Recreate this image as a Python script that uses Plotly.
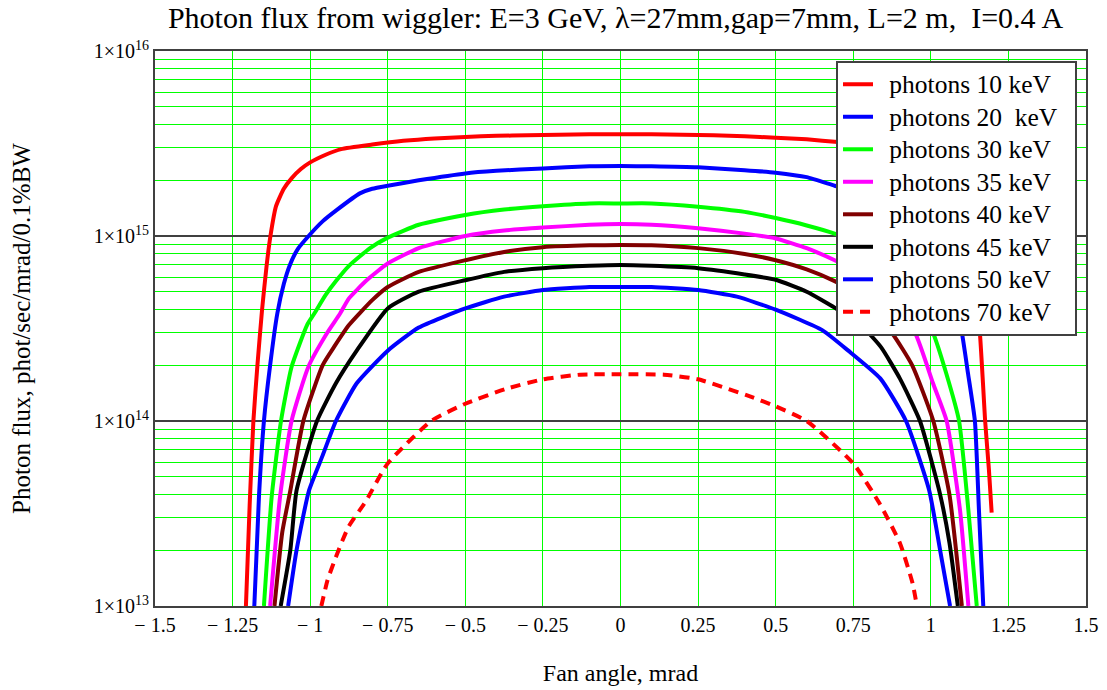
import plotly.graph_objects as go

# ---- data ----
angle_10 = [-1.207, -1.195, -1.183, -1.170, -1.155, -1.140, -1.128, -1.110, -1.085, -1.060, -1.030, -1.000,
            -0.950, -0.900, -0.800, -0.700, -0.600, -0.500, -0.400, -0.300, -0.200, -0.100, 0.000, 0.100,
            0.200, 0.300, 0.400, 0.500, 0.600, 0.700, 0.800, 0.900, 0.950, 1.000, 1.030, 1.060, 1.085,
            1.100, 1.120, 1.135, 1.148, 1.158, 1.168, 1.175, 1.187, 1.196]
flux_10 = [1.0e13, 3.5e13, 1.0e14, 2.0e14, 4.0e14, 7.0e14, 1.0e15, 1.45e15, 1.8e15, 2.05e15, 2.3e15, 2.5e15,
           2.75e15, 2.95e15, 3.12e15, 3.27e15, 3.37e15, 3.43e15, 3.48e15, 3.5e15, 3.53e15, 3.55e15, 3.55e15,
           3.55e15, 3.53e15, 3.5e15, 3.46e15, 3.4e15, 3.33e15, 3.22e15, 3.08e15, 2.88e15, 2.7e15, 2.45e15,
           2.25e15, 1.95e15, 1.7e15, 1.4e15, 1.0e15, 6.5e14, 4.2e14, 3.0e14, 1.6e14, 1.0e14, 5.5e13, 3.2e13]

angle_20 = [-1.180, -1.165, -1.149, -1.129, -1.106, -1.085, -1.065, -1.040, -1.005, -0.960, -0.915, -0.840,
            -0.800, -0.750, -0.650, -0.500, -0.400, -0.250, -0.100, 0.000, 0.100, 0.250, 0.400, 0.500, 0.600,
            0.690, 0.750, 0.850, 0.950, 1.000, 1.040, 1.070, 1.100, 1.120, 1.142, 1.155, 1.169]
flux_20 = [1.0e13, 3.9e13, 1.0e14, 2.0e14, 3.8e14, 5.5e14, 7.0e14, 8.5e14, 1.0e15, 1.2e15, 1.38e15, 1.7e15,
           1.8e15, 1.87e15, 2.0e15, 2.18e15, 2.25e15, 2.32e15, 2.38e15, 2.39e15, 2.38e15, 2.35e15, 2.27e15,
           2.2e15, 2.08e15, 1.87e15, 1.75e15, 1.5e15, 1.15e15, 9.5e14, 7.2e14, 5.0e14, 3.0e14, 1.8e14,
           1.0e14, 3.3e13, 1.0e13]

angle_30 = [-1.149, -1.124, -1.094, -1.060, -1.010, -0.987, -0.950, -0.915, -0.875, -0.807, -0.750, -0.650,
            -0.500, -0.375, -0.250, -0.100, 0.000, 0.100, 0.250, 0.400, 0.500, 0.600, 0.690, 0.750, 0.850,
            0.950, 1.007, 1.050, 1.091, 1.121, 1.148]
flux_30 = [1.0e13, 3.9e13, 1.0e14, 1.96e14, 3.3e14, 3.8e14, 4.8e14, 5.76e14, 6.9e14, 8.6e14, 9.8e14, 1.15e15,
           1.3e15, 1.39e15, 1.45e15, 1.5e15, 1.5e15, 1.5e15, 1.44e15, 1.35e15, 1.25e15, 1.14e15, 1.03e15,
           9.3e14, 7.0e14, 4.6e14, 3.0e14, 1.8e14, 1.0e14, 3.3e13, 1.0e13]

angle_35 = [-1.129, -1.097, -1.060, -1.006, -0.945, -0.904, -0.875, -0.818, -0.750, -0.650, -0.500, -0.375,
            -0.250, -0.100, 0.000, 0.100, 0.250, 0.400, 0.500, 0.600, 0.690, 0.750, 0.850, 0.949, 1.007,
            1.051, 1.094, 1.121]
flux_35 = [1.0e13, 3.9e13, 1.0e14, 1.96e14, 3.0e14, 3.8e14, 4.6e14, 5.76e14, 7.1e14, 8.6e14, 1.0e15, 1.07e15,
           1.11e15, 1.15e15, 1.16e15, 1.15e15, 1.1e15, 1.03e15, 9.7e14, 8.6e14, 7.4e14, 6.6e14, 4.9e14,
           3.0e14, 1.6e14, 1.0e14, 3.3e13, 1.0e13]

angle_40 = [-1.115, -1.090, -1.064, -1.022, -0.960, -0.924, -0.875, -0.800, -0.750, -0.650, -0.500, -0.375,
            -0.250, -0.100, 0.000, 0.100, 0.250, 0.400, 0.500, 0.600, 0.690, 0.750, 0.874, 0.940, 1.008,
            1.060, 1.100]
flux_40 = [1.0e13, 2.5e13, 4.2e13, 1.0e14, 2.0e14, 2.5e14, 3.3e14, 4.5e14, 5.3e14, 6.4e14, 7.4e14, 8.2e14,
           8.7e14, 8.9e14, 8.93e14, 8.9e14, 8.6e14, 8.0e14, 7.4e14, 6.6e14, 5.7e14, 5.0e14, 3.0e14, 2.0e14,
           1.0e14, 4.0e13, 1.0e13]

angle_45 = [-1.095, -1.064, -1.044, -0.978, -0.917, -0.850, -0.750, -0.650, -0.500, -0.375, -0.250, -0.100,
            0.000, 0.100, 0.250, 0.400, 0.500, 0.600, 0.690, 0.790, 0.840, 0.900, 0.965, 1.030, 1.060, 1.087]
flux_45 = [1.0e13, 2.0e13, 4.2e13, 1.0e14, 1.6e14, 2.4e14, 4.06e14, 5.0e14, 5.77e14, 6.4e14, 6.7e14, 6.9e14,
           6.97e14, 6.9e14, 6.7e14, 6.2e14, 5.8e14, 5.0e14, 4.1e14, 3.1e14, 2.5e14, 1.7e14, 1.0e14, 4.0e13,
           2.2e13, 1.0e13]

angle_50 = [-1.071, -1.044, -1.004, -0.960, -0.917, -0.850, -0.750, -0.650, -0.500, -0.375, -0.250, -0.100,
            0.000, 0.100, 0.250, 0.375, 0.500, 0.650, 0.734, 0.837, 0.920, 0.995, 1.030, 1.062]
flux_50 = [1.0e13, 2.0e13, 4.2e13, 6.5e13, 1.0e14, 1.6e14, 2.4e14, 3.2e14, 4.06e14, 4.7e14, 5.1e14, 5.3e14,
           5.3e14, 5.3e14, 5.1e14, 4.7e14, 4.0e14, 3.1e14, 2.4e14, 1.7e14, 1.0e14, 4.2e13, 2.0e13, 1.0e13]

angle_70 = [-0.964, -0.944, -0.917, -0.877, -0.820, -0.750, -0.610, -0.500, -0.370, -0.250, -0.130, 0.000,
            0.140, 0.250, 0.406, 0.500, 0.600, 0.750, 0.834, 0.900, 0.941, 0.955]
flux_70 = [1.0e13, 1.38e13, 1.84e13, 2.67e13, 3.7e13, 5.9e13, 1.0e14, 1.24e14, 1.49e14, 1.68e14, 1.78e14,
           1.79e14, 1.78e14, 1.68e14, 1.38e14, 1.2e14, 1.0e14, 5.9e13, 3.6e13, 2.2e13, 1.33e13, 1.0e13]

series_names = ["photons 10 keV", "photons 20\u00a0 keV", "photons 30 keV", "photons 35 keV",
                "photons 40 keV", "photons 45 keV", "photons 50 keV", "photons 70 keV"]
series_colors = ["#FF0000", "#0000FF", "#00FF00", "#FF00FF", "#800000", "#000000", "#0000FF", "#FF0000"]

x_tick_values = [-1.5, -1.25, -1.0, -0.75, -0.5, -0.25, 0, 0.25, 0.5, 0.75, 1.0, 1.25, 1.5]
x_tick_labels = ["\u2212 1.5", "\u2212 1.25", "\u2212 1", "\u2212 0.75", "\u2212 0.5", "\u2212 0.25",
                 "0", "0.25", "0.5", "0.75", "1", "1.25", "1.5"]
y_tick_values = [1e13, 1e14, 1e15, 1e16]
y_tick_labels = ["1\u00d710<sup>13</sup>", "1\u00d710<sup>14</sup>", "1\u00d710<sup>15</sup>",
                 "1\u00d710<sup>16</sup>"]
y_minor_values = [m * 10 ** e for e in (13, 14, 15) for m in range(2, 10)]

angles = [angle_10, angle_20, angle_30, angle_35, angle_40, angle_45, angle_50, angle_70]
fluxes = [flux_10, flux_20, flux_30, flux_35, flux_40, flux_45, flux_50, flux_70]

FONT = "Liberation Serif"

fig = go.Figure()
for i, (xs, ys) in enumerate(zip(angles, fluxes)):
    fig.add_trace(go.Scatter(
        x=xs, y=ys, mode="lines",
        name="\u00a0\u00a0<span style=\"font-size:25.5px\">" + series_names[i] + "\u00a0\u00a0</span>",
        line=dict(color=series_colors[i], width=4, shape="spline", smoothing=0.5,
                  dash="10px,7px" if i == 7 else "solid"),
    ))

fig.update_layout(
    width=1107, height=690,
    margin=dict(l=155, r=21, t=51, b=84),
    paper_bgcolor="white", plot_bgcolor="white",
    font=dict(family=FONT, color="black"),
    title=dict(text="Photon flux from wiggler: E=3 GeV, \u03bb=27mm,gap=7mm, L=2 m,\u00a0 I=0.4 A",
               x=0.556, xref="container", xanchor="center",
               y=0.974, yref="container", yanchor="middle",
               font=dict(family=FONT, size=30, color="black")),
    legend=dict(x=0.7315, y=0.982, xanchor="left", yanchor="top",
                bgcolor="white", bordercolor="#404040", borderwidth=2,
                font=dict(family=FONT, size=22.7, color="black")),
    showlegend=True,
)

fig.update_xaxes(
    range=[-1.5, 1.5], tickmode="array", tickvals=x_tick_values, ticktext=x_tick_labels,
    showgrid=True, gridcolor="#00FF00", gridwidth=1, zeroline=False, automargin=False,
    showline=True, linecolor="#404040", linewidth=2, mirror=True, ticks="",
    tickfont=dict(family=FONT, size=20, color="black"),
    title=dict(text="Fan angle, mrad", font=dict(family=FONT, size=24, color="black"), standoff=29),
)
fig.update_yaxes(
    type="log", range=[13, 16], tickmode="array", tickvals=y_tick_values, ticktext=y_tick_labels,
    showgrid=True, gridcolor="#404040", gridwidth=1.5, zeroline=False, automargin=False,
    showline=True, linecolor="#404040", linewidth=2, mirror=True, ticks="",
    tickfont=dict(family=FONT, size=20, color="black"),
    minor=dict(tickmode="array", tickvals=y_minor_values, showgrid=True,
               gridcolor="#00FF00", gridwidth=1, ticks=""),
    title=dict(text="Photon flux, phot/sec/mrad/0.1%BW", font=dict(family=FONT, size=25, color="black"),
               standoff=56),
)

fig.write_html("out.html")
